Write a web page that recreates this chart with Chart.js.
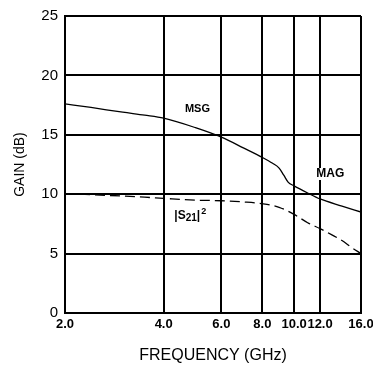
<!DOCTYPE html>
<html>
<head>
<meta charset="utf-8">
<script src="https://cdn.jsdelivr.net/npm/chart.js@4/dist/chart.umd.min.js"></script>
<style>
  html, body { margin: 0; padding: 0; background: #fff; }
  #wrap { width: 373px; height: 365px; }
</style>
</head>
<body>
<div id="wrap"><canvas id="grafico-ganho"></canvas></div>
<script>
// eixo X (GHz) e eixo Y (dB)
var xTicks = [2, 4, 6, 8, 10, 12, 16];
var yTicks = [0, 5, 10, 15, 20, 25];

// MSG / MAG
var msgFreq = [2.0, 2.4, 3.0, 3.5, 4.0, 5.0, 6.0, 7.0, 8.0, 8.6, 9.0, 9.3, 9.6, 10.0, 11.0, 12.0, 14.0, 16.0];
var msgGain = [17.6, 17.3, 16.9, 16.65, 16.4, 15.6, 14.8, 13.9, 13.1, 12.6, 12.2, 11.6, 11.0, 10.7, 10.1, 9.6, 9.0, 8.5];

// |S21|^2
var s21Freq = [2.0, 2.7, 3.5, 4.0, 5.0, 6.0, 7.0, 8.0, 9.0, 10.0, 11.0, 12.0, 13.0, 14.0, 15.0, 16.0];
var s21Gain = [10.05, 9.9, 9.75, 9.65, 9.5, 9.45, 9.35, 9.2, 8.9, 8.3, 7.6, 7.1, 6.6, 6.1, 5.5, 5.0];

var fonte = "'Liberation Sans', Arial, sans-serif";

function pontos(xs, ys) {
    return xs.map((x, i) => ({ x: x, y: ys[i] }));
}

// texto com fundo branco por cima da grade
function rotulo(ctx, texto, x, y) {
    var w = ctx.measureText(texto).width;
    ctx.fillStyle = '#fff';
    ctx.fillRect(x - w / 2 - 1, y - 6, w + 2, 12);
    ctx.fillStyle = '#000';
    ctx.fillText(texto, x, y);
}

// textos MSG, MAG e |S21|² dentro do gráfico
var rotulos = {
    id: 'rotulos',
    afterDatasetsDraw(chart) {
        var ctx = chart.ctx;
        var sx = chart.scales.x;
        var sy = chart.scales.y;
        ctx.save();
        ctx.textAlign = 'center';
        ctx.textBaseline = 'middle';
        ctx.font = 'bold 11px ' + fonte;
        rotulo(ctx, 'MSG', sx.getPixelForValue(5.07), sy.getPixelForValue(17.2));
        ctx.font = 'bold 12px ' + fonte;
        rotulo(ctx, 'MAG', sx.getPixelForValue(12.9), sy.getPixelForValue(11.7));

        // |S21|² com subscrito e sobrescrito
        var x = sx.getPixelForValue(4.31);
        var y = sy.getPixelForValue(8.2);
        ctx.fillStyle = '#000';
        ctx.textAlign = 'left';
        ctx.font = 'bold 12px ' + fonte;
        ctx.fillText('|S', x, y);
        x += ctx.measureText('|S').width;
        ctx.font = 'bold 10px ' + fonte;
        ctx.fillText('21', x, y + 3);
        x += ctx.measureText('21').width;
        ctx.font = 'bold 12px ' + fonte;
        ctx.fillText('|', x, y);
        x += ctx.measureText('|').width + 1;
        ctx.font = 'bold 9px ' + fonte;
        ctx.fillText('2', x, y - 4);
        ctx.restore();
    }
};

new Chart(document.querySelector('#grafico-ganho'), {
    type: 'line',
    data: {
        datasets: [{
            label: 'MSG/MAG',
            data: pontos(msgFreq, msgGain),
            borderColor: '#000',
            borderWidth: 1.3,
            pointRadius: 0,
            cubicInterpolationMode: 'monotone',
            fill: false
        }, {
            label: '|S21|²',
            data: pontos(s21Freq, s21Gain),
            borderColor: '#000',
            borderWidth: 1.3,
            borderDash: [10, 5],
            pointRadius: 0,
            cubicInterpolationMode: 'monotone',
            fill: false
        }]
    },
    plugins: [rotulos],
    options: {
        responsive: true,
        maintainAspectRatio: false,
        animation: false,
        layout: {
            padding: { top: 15, right: 12, left: 0, bottom: 0 }
        },
        plugins: {
            legend: { display: false },
            tooltip: { enabled: false }
        },
        scales: {
            x: {
                type: 'logarithmic',
                min: 2,
                max: 16,
                afterBuildTicks: scale => {
                    scale.ticks = xTicks.map(v => ({ value: v }));
                },
                afterFit: scale => {
                    scale.height = 52;
                    scale.paddingLeft = 0;
                    scale.paddingRight = 0;
                },
                ticks: {
                    autoSkip: false,
                    maxRotation: 0,
                    padding: 4,
                    color: '#000',
                    font: { family: fonte, size: 13, weight: 'bold' },
                    callback: v => Number(v).toFixed(1)
                },
                grid: { color: '#000', lineWidth: 2, drawTicks: false },
                border: { display: true, color: '#000', width: 2 },
                title: {
                    display: true,
                    text: 'FREQUENCY (GHz)',
                    color: '#000',
                    padding: { top: 2, bottom: 0 },
                    font: { family: fonte, size: 16 }
                }
            },
            y: {
                min: 0,
                max: 25,
                afterBuildTicks: scale => {
                    scale.ticks = yTicks.map(v => ({ value: v }));
                },
                afterFit: scale => { scale.width = 65; },
                ticks: {
                    padding: 7,
                    color: '#000',
                    font: { family: fonte, size: 15 }
                },
                grid: { color: '#000', lineWidth: 2, drawTicks: false },
                border: { display: true, color: '#000', width: 2 },
                title: {
                    display: true,
                    text: 'GAIN (dB)',
                    color: '#000',
                    padding: { top: 12, bottom: 0 },
                    font: { family: fonte, size: 14 }
                }
            }
        }
    }
});
</script>
</body>
</html>
